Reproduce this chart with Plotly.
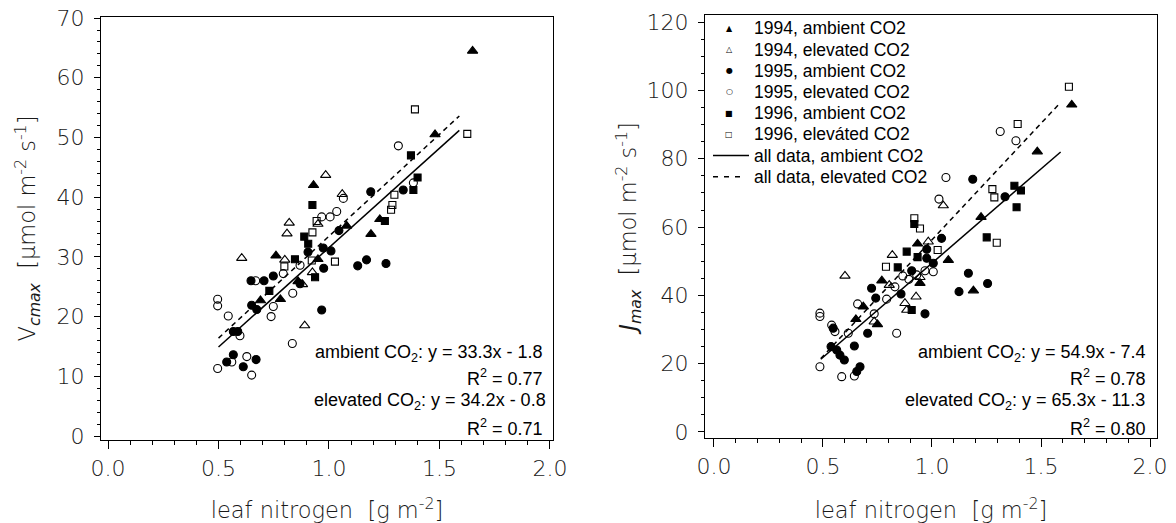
import plotly.graph_objects as go

# ---------------- data: left panel (Vcmax) ----------------
v94a_x = [0.69, 0.76, 0.78, 0.86, 0.93, 0.95, 1.08, 1.19, 1.23, 1.48, 1.65]
v94a_y = [22.7, 30.2, 22.9, 25.9, 42.0, 29.6, 35.2, 33.8, 36.3, 50.5, 64.5]
v94e_x = [0.605, 0.80, 0.81, 0.82, 0.88, 0.89, 0.925, 0.95, 0.985, 1.06]
v94e_y = [29.8, 29.5, 33.9, 35.7, 25.4, 18.5, 27.4, 35.5, 43.7, 40.5]
v95a_x = [0.537, 0.567, 0.567, 0.587, 0.612, 0.647, 0.650, 0.670, 0.673, 0.706, 0.748,
          0.869, 0.905, 0.967, 0.974, 0.976, 1.009, 1.045, 1.13, 1.17, 1.189, 1.258, 1.336]
v95a_y = [12.4, 13.6, 17.5, 17.5, 11.6, 26.0, 21.9, 12.8, 21.2, 26.0, 26.8,
          25.5, 30.8, 21.1, 31.5, 28.1, 31.0, 34.4, 28.5, 29.5, 40.9, 28.9, 41.2]
v95e_x = [0.496, 0.496, 0.496, 0.544, 0.560, 0.597, 0.628, 0.650, 0.668, 0.738, 0.748,
          0.793, 0.834, 0.836, 0.869, 0.967, 1.005, 1.035, 1.065, 1.314, 1.382]
v95e_y = [11.3, 21.8, 22.9, 20.1, 12.4, 16.8, 13.3, 10.2, 26.0, 20.0, 21.7,
          27.2, 15.5, 23.9, 28.6, 36.7, 36.7, 37.6, 39.8, 48.6, 42.4]
v96a_x = [0.73, 0.846, 0.888, 0.906, 0.925, 0.937, 1.253, 1.371, 1.382, 1.401]
v96a_y = [24.3, 29.6, 33.4, 32.2, 38.7, 26.6, 36.0, 47.0, 41.2, 43.3]
v96e_x = [0.798, 0.922, 0.925, 0.944, 1.027, 1.281, 1.287, 1.296, 1.389, 1.626]
v96e_y = [28.4, 29.4, 34.1, 36.0, 29.2, 37.9, 38.7, 40.4, 54.7, 50.6]
v_fit_x = [0.5, 1.59]
v_fit_amb = [14.9, 51.2]
v_fit_elev = [16.4, 53.6]

# ---------------- data: right panel (Jmax) ----------------
j94a_x = [0.651, 0.685, 0.75, 0.77, 0.934, 0.945, 1.075, 1.19, 1.225, 1.483, 1.641]
j94a_y = [33.0, 36.7, 31.5, 44.3, 55.1, 43.6, 50.3, 41.4, 62.9, 82.1, 95.8]
j94e_x = [0.601, 0.735, 0.804, 0.818, 0.876, 0.884, 0.927, 0.945, 0.983, 1.052]
j94e_y = [45.7, 32.3, 43.0, 51.8, 37.7, 35.7, 39.6, 45.3, 55.7, 66.3]
j95a_x = [0.537, 0.547, 0.563, 0.578, 0.598, 0.644, 0.655, 0.670, 0.705, 0.723, 0.742, 0.858,
          0.907, 0.968, 0.976, 0.976, 1.006, 1.044, 1.124, 1.167, 1.187, 1.255, 1.335]
j95a_y = [25.0, 30.4, 24.0, 22.5, 21.1, 25.2, 17.7, 19.1, 28.9, 42.1, 39.2, 40.4,
          47.2, 34.6, 53.5, 50.9, 49.4, 56.7, 41.1, 46.5, 74.0, 43.5, 68.9]
j95e_x = [0.486, 0.486, 0.486, 0.540, 0.555, 0.586, 0.616, 0.644, 0.659, 0.735, 0.792,
          0.830, 0.838, 0.866, 0.894, 0.930, 0.968, 1.006, 1.032, 1.064, 1.313, 1.385]
j95e_y = [19.1, 33.8, 34.8, 31.3, 29.4, 16.2, 28.9, 16.4, 37.5, 34.6, 38.9,
          42.5, 28.9, 45.7, 44.7, 46.0, 47.2, 46.9, 68.2, 74.5, 88.0, 85.3]
j96a_x = [0.843, 0.884, 0.907, 0.919, 0.934, 1.251, 1.378, 1.388, 1.408]
j96a_y = [48.2, 52.8, 35.7, 60.9, 51.2, 57.0, 72.1, 65.8, 70.7]
j96e_x = [0.789, 0.919, 0.945, 1.026, 1.277, 1.286, 1.297, 1.393, 1.628]
j96e_y = [48.4, 62.6, 59.6, 53.3, 71.1, 68.7, 55.4, 90.2, 101.1]
j_fit_x = [0.49, 1.59]
j_fit_amb = [21.3, 82.0]
j_fit_elev = [21.5, 96.5]

tick_vals_x = [0.0, 0.5, 1.0, 1.5, 2.0]

legend_labels = ["1994, ambient CO2", "1994, elevated CO2", "1995, ambient CO2",
                 "1995, elevated CO2", "1996, ambient CO2", "1996, eleváted CO2",
                 "all data, ambient CO2", "all data, elevated CO2"]
legend_glyphs = ["▲", "△", "●", "○", "■", "□"]

eq_left = ["ambient CO<sub>2</sub>: y = 33.3x - 1.8", "R<sup>2</sup> = 0.77",
           "elevated CO<sub>2</sub>: y = 34.2x - 0.8", "R<sup>2</sup> = 0.71"]
eq_right = ["ambient CO<sub>2</sub>: y = 54.9x - 7.4", "R<sup>2</sup> = 0.78",
            "elevated CO<sub>2</sub>: y = 65.3x - 11.3", "R<sup>2</sup> = 0.80"]

# the page body margin is removed (post_script below), so the figure fills the window
W, H = 1176, 523


def px(x):
    return x / W


def py(y):
    return 1 - y / H


fig = go.Figure()


def pts(x, y, symbol, size, xa, ya):
    fig.add_trace(go.Scatter(x=x, y=y, mode="markers", xaxis=xa, yaxis=ya, showlegend=False,
                             marker=dict(symbol=symbol, size=size, color="black",
                                         line=dict(color="black", width=1.1))))


def fit(x, y, dash, xa, ya):
    fig.add_trace(go.Scatter(x=x, y=y, mode="lines", xaxis=xa, yaxis=ya, showlegend=False,
                             line=dict(color="black", width=1.5, dash=dash)))


for xa, ya, series, fx, fa, fe in [
    ("x", "y", [(v94a_x, v94a_y), (v94e_x, v94e_y), (v95a_x, v95a_y), (v95e_x, v95e_y),
                (v96a_x, v96a_y), (v96e_x, v96e_y)], v_fit_x, v_fit_amb, v_fit_elev),
    ("x2", "y2", [(j94a_x, j94a_y), (j94e_x, j94e_y), (j95a_x, j95a_y), (j95e_x, j95e_y),
                  (j96a_x, j96a_y), (j96e_x, j96e_y)], j_fit_x, j_fit_amb, j_fit_elev)]:
    fit(fx, fa, "solid", xa, ya)
    fit(fx, fe, "5px,4px", xa, ya)
    syms = [("triangle-up", 9), ("triangle-up-open", 9), ("circle", 8), ("circle-open", 8),
            ("square", 7), ("square-open", 7)]
    for (sx, sy), (sym, sz) in zip(series, syms):
        pts(sx, sy, sym, sz, xa, ya)

tickfont = dict(family="DejaVu Sans", size=22, color="#1a1a1a", weight=200)
titlefont = dict(family="DejaVu Sans", size=22.5, color="#1a1a1a", weight=200)


def xaxis(domain, rng, anchor):
    return dict(domain=domain, range=rng, anchor=anchor, tickvals=tick_vals_x, tickformat=".1f",
                ticks="outside", ticklen=8, tickwidth=1, tickcolor="black", showline=True,
                linecolor="black", linewidth=1.2, mirror=True, showgrid=False, zeroline=False,
                automargin=False, tickfont=tickfont, ticklabelstandoff=0,
                ticklabeloverflow="allow",
                title=dict(text="leaf nitrogen  [g m<sup>-2</sup>]", font=titlefont, standoff=36),
                minor=dict(dtick=0.1, tick0=0, ticks="outside", ticklen=4, tickcolor="black",
                           showgrid=False))


def yaxis(domain, rng, anchor, dtick, mdtick, title, standoff):
    return dict(domain=domain, range=rng, anchor=anchor, dtick=dtick, tick0=0,
                ticks="outside", ticklen=6, tickwidth=1, tickcolor="black", showline=True,
                linecolor="black", linewidth=1.2, mirror=True, showgrid=False, zeroline=False,
                automargin=False, tickfont=tickfont, ticklabelstandoff=5,
                ticklabeloverflow="allow",
                title=dict(text=title, font=titlefont, standoff=standoff),
                minor=dict(dtick=mdtick, tick0=0, ticks="outside", ticklen=3, tickcolor="black",
                           showgrid=False))


annotations = []
eq_rows = [353, 377, 402, 427]
for txts, xr in [(eq_left, [545, 545, 548, 545]), (eq_right, [1148, 1148, 1147, 1148])]:
    for t, yy, xx in zip(txts, eq_rows, xr):
        annotations.append(dict(text=t, xref="paper", yref="paper", x=px(xx), y=py(yy),
                                xanchor="right", yanchor="middle", showarrow=False,
                                font=dict(family="Liberation Sans", size=18, color="black")))

leg_rows = [28.3 + 21.2 * i for i in range(8)]
for i, lab in enumerate(legend_labels):
    annotations.append(dict(text=lab, xref="paper", yref="paper", x=px(752), y=py(leg_rows[i]),
                            xanchor="left", yanchor="middle", showarrow=False,
                            font=dict(family="Liberation Sans", size=17.5, color="black")))
for i, g in enumerate(legend_glyphs):
    annotations.append(dict(text=g, xref="paper", yref="paper", x=px(729), y=py(leg_rows[i]),
                            xanchor="center", yanchor="middle", showarrow=False,
                            font=dict(family="DejaVu Sans", size=8, color="black")))

shapes = [
    dict(type="line", xref="paper", yref="paper", x0=px(713), x1=px(749),
         y0=py(leg_rows[6]), y1=py(leg_rows[6]), line=dict(color="black", width=1.5)),
    dict(type="line", xref="paper", yref="paper", x0=px(713), x1=px(745),
         y0=py(leg_rows[7]), y1=py(leg_rows[7]),
         line=dict(color="black", width=1.5, dash="5px,6px")),
]

fig.update_layout(
    width=W, height=H, margin=dict(l=0, r=0, t=0, b=0),
    plot_bgcolor="white", paper_bgcolor="white", showlegend=False,
    xaxis=xaxis([px(101), px(553)], [-0.032, 2.014], "y"),
    yaxis=yaxis([py(440), py(17)], [-0.67, 70.18], "x", 10, 2,
                "V<sub><i>cmax</i></sub>  [µmol m<sup>-2</sup> s<sup>-1</sup>]", 14),
    xaxis2=xaxis([px(705), px(1157)], [-0.041, 2.032], "y2"),
    yaxis2=yaxis([py(438), py(15)], [-1.76, 122.1], "x2", 20, 5,
                 "<i>J<sub>max</sub></i>  [µmol m<sup>-2</sup> s<sup>-1</sup>]", 3),
    annotations=annotations, shapes=shapes,
)

fig.write_html("out.html", config={"displayModeBar": False},
               post_script="document.body.style.margin='0px';")
